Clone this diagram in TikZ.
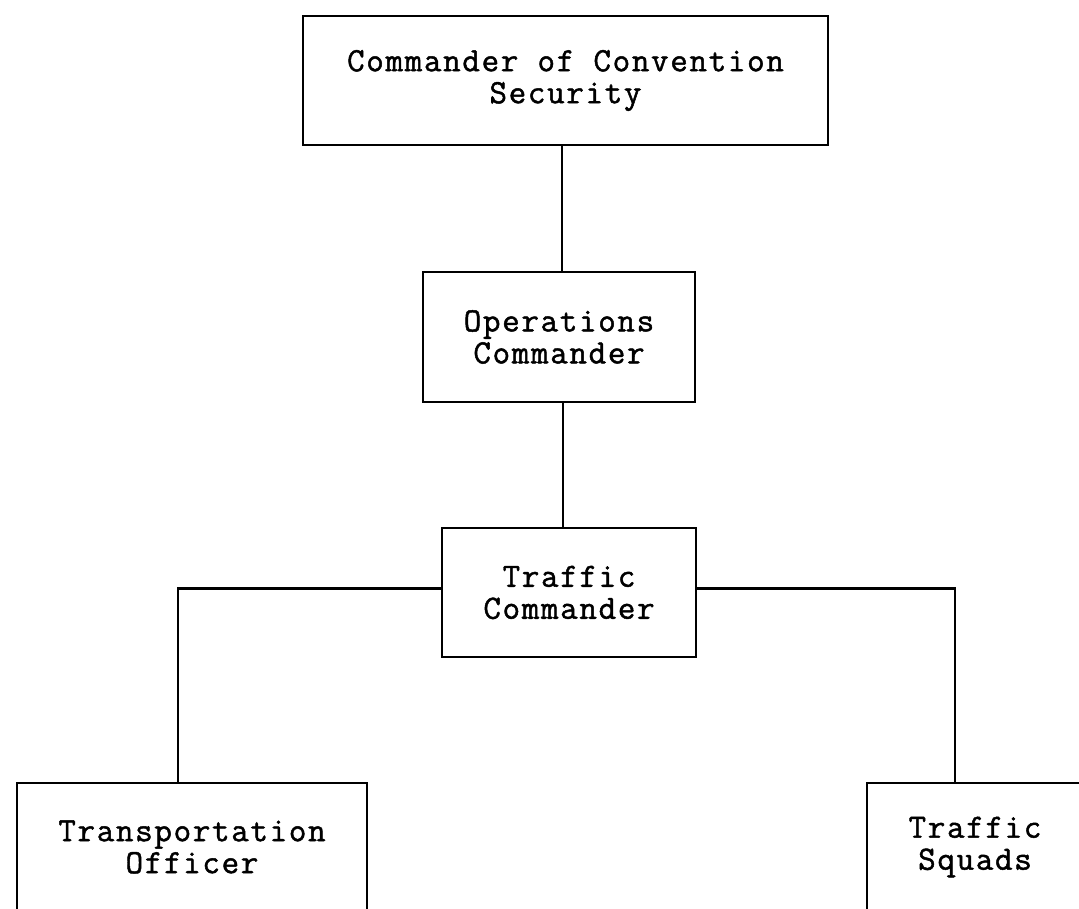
\documentclass[tikz,border=0pt]{standalone}
\usepackage{fontspec}
\newfontfamily\typefont[FakeBold=1.4,LetterSpace=5]{Latin Modern Mono}
\tikzset{
  unit/.style={draw,line width=2.2pt,align=center,inner sep=0pt,
    font=\typefont\fontsize{34}{32}\selectfont},
  link/.style={line width=2.2pt}
}
\begin{document}
\begin{tikzpicture}[x=1pt,y=-1pt]
\useasboundingbox (0,0) rectangle (1079,909);
\clip (0,0) rectangle (1079,909);
\node[unit,minimum width=525,minimum height=129] (cs) at (565.5,80.5) {Commander of Convention\\Security};
\node[unit,minimum width=272,minimum height=130] (oc) at (559,337) {Operations\\Commander};
\node[unit,minimum width=254,minimum height=129] (tc) at (569,592.5) {Traffic\\Commander};
\node[unit,minimum width=350,minimum height=128] (to) at (192,847) {Transportation\\Officer};
\node[unit,minimum width=216,minimum height=128] (ts) at (975,847) {Traffic\\Squads};
% chain of command
\draw[link] ([xshift=3pt]cs.south -| oc.north) -- ([xshift=3pt]oc.north);
\draw[link] ([xshift=4pt]oc.south) -- ([xshift=4pt]oc.south |- tc.north);
\draw[link] ([yshift=4pt]tc.west) -| ([xshift=-14pt]to.north);
\draw[link] ([yshift=4pt]tc.east) -| ([xshift=-20pt]ts.north);
\end{tikzpicture}
\end{document}
